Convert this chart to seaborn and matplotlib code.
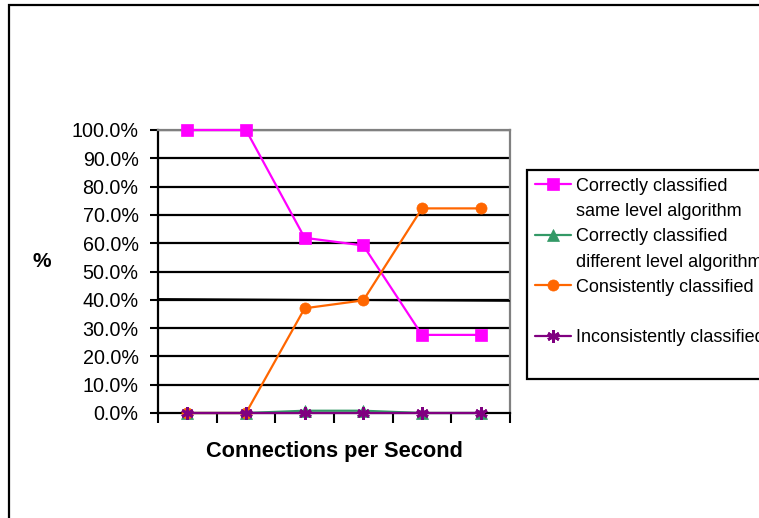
import matplotlib
matplotlib.use("Agg")
import matplotlib.pyplot as plt
from matplotlib.lines import Line2D
from matplotlib.patches import Rectangle
import pandas as pd
import seaborn as sns

# Measurement points (six load levels, unlabeled on the axis)
positions = [0, 1, 2, 3, 4, 5]
same_level = [100.0, 100.0, 61.9, 59.2, 27.6, 27.6]
different_level = [0.0, 0.0, 0.8, 0.8, 0.0, 0.0]
consistent = [0.0, 0.0, 37.0, 39.8, 72.3, 72.3]
inconsistent = [0.0, 0.0, 0.0, 0.0, 0.0, 0.0]

# Straight reference line across the plot (value at left and right edge)
reference_line = [40.3, 39.6]

y_ticks = [0, 10, 20, 30, 40, 50, 60, 70, 80, 90, 100]

series_labels = [
    ("Correctly classified", "same level algorithm"),
    ("Correctly classified", "different level algorithm"),
    ("Consistently classified", ""),
    ("Inconsistently classified", ""),
]
series_values = [same_level, different_level, consistent, inconsistent]
series_colors = ["#FF00FF", "#339966", "#FF6600", "#800080"]
series_markers = ["s", "^", "o", (6, 2, 0)]
series_msize = [8, 8, 8, 9]
series_mew = [0.5, 0.5, 0.5, 2.0]

sns.set_style("white")
plt.rcParams["font.family"] = ["Liberation Sans", "DejaVu Sans"]
plt.rcParams["text.color"] = "black"
plt.rcParams["axes.labelcolor"] = "black"
plt.rcParams["xtick.color"] = "black"
plt.rcParams["ytick.color"] = "black"

fig = plt.figure(figsize=(7.59, 5.18), dpi=100)
ax = fig.add_axes([158 / 759, 1 - 413 / 518, 352 / 759, 283 / 518])

for (l1, l2), vals, col, mk, ms, mew in zip(series_labels, series_values, series_colors,
                                            series_markers, series_msize, series_mew):
    df = pd.DataFrame({"x": positions, "y": vals})
    sns.lineplot(data=df, x="x", y="y", ax=ax, color=col, linewidth=1.6,
                 marker=mk, markersize=ms, markeredgecolor=col,
                 markeredgewidth=mew, legend=False, clip_on=False, zorder=4)

ax.plot([-0.5, 5.5], reference_line, color="black", linewidth=1.3, zorder=3)

ax.set_xlim(-0.5, 5.5)
ax.set_ylim(0, 100)
ax.set_yticks(y_ticks)
ax.set_yticklabels([f"{v:.1f}%" for v in y_ticks], fontsize=14.2)
ax.set_xticks([p - 0.5 for p in positions] + [5.5])
ax.set_xticklabels([])
ax.tick_params(axis="both", direction="out", length=6, width=1.5, color="black",
               labelcolor="black", bottom=True, left=True)
ax.tick_params(axis="y", pad=8)
ax.tick_params(axis="x", length=7)

for v in y_ticks[1:]:
    ax.axhline(v, color="black", linewidth=1.6, zorder=2)

for side in ["left", "bottom"]:
    ax.spines[side].set_color("black")
    ax.spines[side].set_linewidth(1.6)
for side in ["right", "top"]:
    ax.spines[side].set_color("#808080")
    ax.spines[side].set_linewidth(1.6)

ax.set_xlabel("Connections per Second", fontsize=15.7, fontweight="bold", color="black")
ax.xaxis.set_label_coords(0.5, -(451 - 413) / 283)
ax.xaxis.label.set_va("center")
ax.set_ylabel("%", fontsize=15, fontweight="bold", rotation=0, color="black")
ax.yaxis.set_label_coords((42 - 158) / 352, (413 - 262) / 283)
ax.yaxis.label.set_va("center")
ax.yaxis.label.set_ha("center")

# Legend: first line of each entry carries the marker, second line is text only
handles, labels = [], []
for (l1, l2), col, mk, ms, mew in zip(series_labels, series_colors, series_markers,
                                      series_msize, series_mew):
    handles.append(Line2D([], [], color=col, linewidth=1.6, marker=mk, markersize=ms,
                          markeredgecolor=col, markeredgewidth=mew))
    labels.append(l1)
    handles.append(Line2D([], [], color="none"))
    labels.append(l2 if l2 else " ")

leg = fig.legend(handles, labels, loc="upper left",
                 bbox_to_anchor=(527 / 759, 1 - 170 / 518),
                 fontsize=13, frameon=True, fancybox=False, framealpha=1,
                 edgecolor="black", handlelength=2.0, handletextpad=0.3,
                 labelspacing=0.46, borderpad=0.42, borderaxespad=0)
leg.get_frame().set_linewidth(1.6)

# Outer chart border
fig.add_artist(Rectangle((8.5 / 759, -0.2), 1.2, 1.2 - 4.5 / 518, fill=False,
                         edgecolor="black", linewidth=1.6, transform=fig.transFigure))

fig.savefig("out.png", dpi=100)
